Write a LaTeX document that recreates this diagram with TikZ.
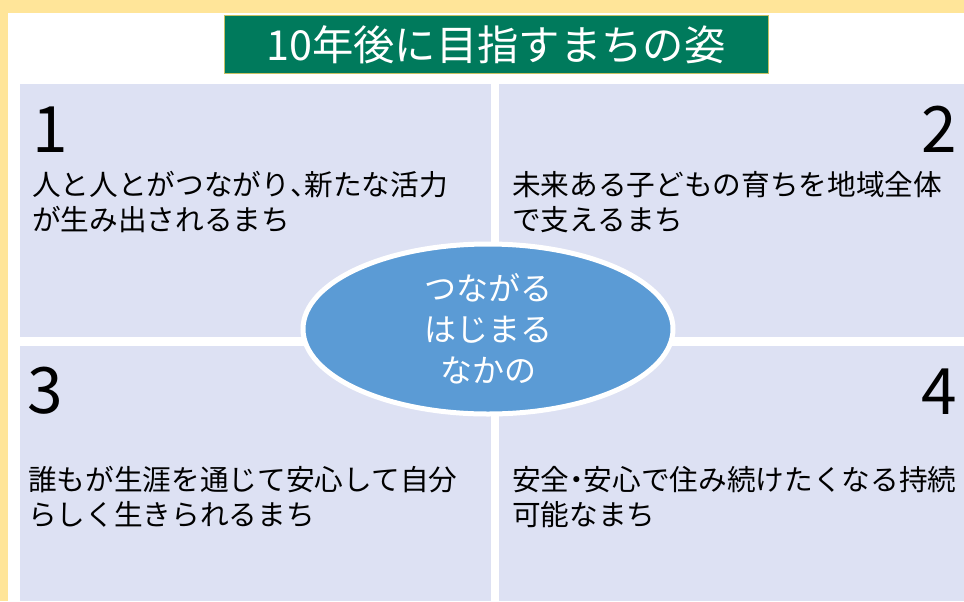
\documentclass[tikz,border=0pt]{standalone}
\usepackage{fontspec}
\setmainfont{Noto Sans CJK JP}
\usepackage{tikz}
\usetikzlibrary{shapes.geometric, positioning, calc}
\definecolor{frameyellow}{RGB}{255,229,153}
\definecolor{titlegreen}{RGB}{0,122,92}
\definecolor{quadfill}{RGB}{221,225,243}
\definecolor{ovalblue}{RGB}{91,155,213}
\newcommand{\halfp}[1]{{\addfontfeatures{RawFeature=+halt}#1}}
\tikzset{
  goal/.style={anchor=north west, align=left, inner sep=0pt, font=\fontsize{21.5}{26.5}\selectfont},
  num/.style={inner sep=0pt, font=\fontsize{48}{48}\selectfont}
}

\begin{document}
\begin{tikzpicture}[x=0.75pt, y=-0.75pt]
    \useasboundingbox (0,0) rectangle (964,601);
    \fill [frameyellow] (0,0) rectangle (964,601);
    \fill [white] (8,13) rectangle (964,601);
    % four quadrants
    \fill [quadfill] (20,84) rectangle (491,337);
    \fill [quadfill] (499,84) rectangle (964,337);
    \fill [quadfill] (20,346) rectangle (491,601);
    \fill [quadfill] (499,346) rectangle (964,601);

    \node [fill=titlegreen, draw=olive!50, line width=0.6pt, minimum width=408pt, minimum height=44pt, inner sep=0pt, text=white, font=\fontsize{31}{31}\selectfont] (title) at (496,44.5) { 10年後に目指すまちの姿 };

    \node [num, anchor=base west] (n1) at (32,152) { 1 };
    \node [num, anchor=base east] (n2) at (957,152) { 2 };
    \node [num, anchor=base west] (n3) at (27,413) { 3 };
    \node [num, anchor=base east] (n4) at (957,414) { 4 };

    \node [goal] (g1) at (32,171) { 人と人とがつながり\halfp{、}新たな活力\\が生み出されるまち };
    \node [goal] (g2) at (512,171) { 未来ある子どもの育ちを地域全体\\で支えるまち };
    \node [goal] (g3) at (28,466) { 誰もが生涯を通じて安心して自分\\らしく生きられるまち };
    \node [goal] (g4) at (512,466) { 安全\halfp{・}安心で住み続けたくなる持続\\可能なまち };

    \node [ellipse, fill=ovalblue, draw=white, line width=3.75pt, minimum width=277.5pt, minimum height=127.5pt, inner sep=0pt, text=white, align=center, font=\fontsize{24}{30.75}\selectfont] (core) at (488,329) { つながる\\はじまる\\なかの };
\end{tikzpicture}
\end{document}
